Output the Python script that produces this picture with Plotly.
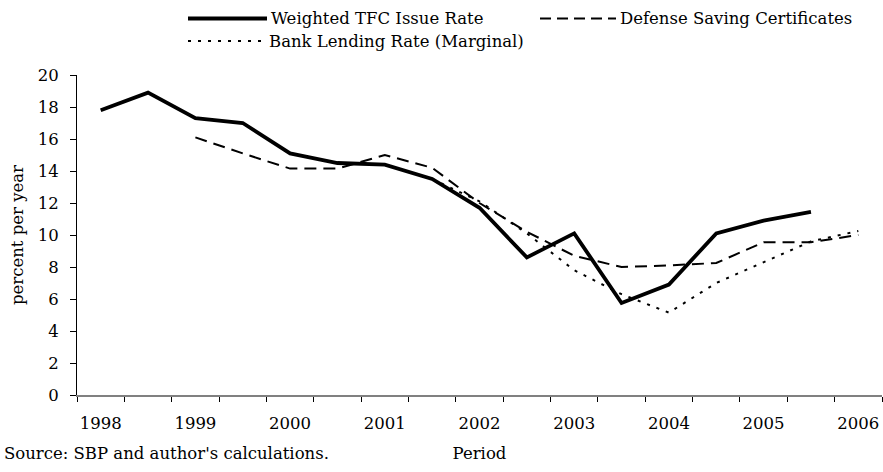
import plotly.graph_objects as go

periods = ["1998", "1998 H2", "1999", "1999 H2", "2000", "2000 H2", "2001", "2001 H2",
           "2002", "2002 H2", "2003", "2003 H2", "2004", "2004 H2", "2005", "2005 H2", "2006"]
year_labels = ["1998", "1999", "2000", "2001", "2002", "2003", "2004", "2005", "2006"]

tfc_rate = [17.8, 18.9, 17.3, 17.0, 15.1, 14.5, 14.4, 13.5, 11.7, 8.6, 10.1, 5.75, 6.9, 10.1, 10.9, 11.45]
defense_rate = [16.1, 15.1, 14.15, 14.15, 15.0, 14.2, 12.0, 10.2, 8.7, 8.0, 8.1, 8.25, 9.55, 9.55, 10.0]
defense_start = "1999"
bank_rate = [13.5, 12.1, 10.1, 7.8, 6.3, 5.15, 7.0, 8.3, 9.6, 10.25]
bank_start = "2001 H2"

series_names = ["Weighted TFC Issue Rate", "Defense Saving Certificates", "Bank Lending Rate (Marginal)"]

FONT = "DejaVu Serif"
FS = 16.5

W, H = 883, 472
ML, MR, MT, MB = 77, 1, 75, 77
PW, PH = W - ML - MR, H - MT - MB


def idx_from(start, n):
    s = periods.index(start)
    return list(range(s, s + n))


fig = go.Figure()
fig.add_trace(go.Scatter(x=list(range(len(tfc_rate))), y=tfc_rate, mode="lines",
                         name=series_names[0], line=dict(color="black", width=3.8),
                         showlegend=False))
fig.add_trace(go.Scatter(x=idx_from(defense_start, len(defense_rate)), y=defense_rate, mode="lines",
                         name=series_names[1], line=dict(color="black", width=2, dash="12px,7px"),
                         showlegend=False))
fig.add_trace(go.Scatter(x=idx_from(bank_start, len(bank_rate)), y=bank_rate, mode="lines",
                         name=series_names[2], line=dict(color="black", width=2, dash="3px,7px"),
                         showlegend=False))


def px(x):
    return (x - ML) / PW


def py(y):
    return (H - MB - y) / PH


# custom legend (long sample lines like the original)
legend_items = [
    (188, 267, 18.5, dict(color="black", width=3.8)),
    (540, 616, 18.5, dict(color="black", width=2, dash="11px,6px")),
    (188, 265, 41, dict(color="black", width=2, dash="3px,7px")),
]
for (x0, x1, yy, ln), name in zip(legend_items, series_names):
    fig.add_shape(type="line", xref="paper", yref="paper", x0=px(x0), x1=px(x1),
                  y0=py(yy), y1=py(yy), line=ln)
    fig.add_annotation(xref="paper", yref="paper", x=px(x1 + 2), y=py(yy), text=name,
                       showarrow=False, xanchor="left", yanchor="middle",
                       font=dict(family=FONT, size=FS, color="black"))

fig.add_annotation(xref="paper", yref="paper", x=px(2), y=py(453),
                   text="Source: SBP and author's calculations.", showarrow=False,
                   xanchor="left", yanchor="middle",
                   font=dict(family=FONT, size=FS, color="black"))

fig.update_layout(
    width=W, height=H,
    margin=dict(l=ML, r=MR, t=MT, b=MB),
    paper_bgcolor="white", plot_bgcolor="white",
    font=dict(family=FONT, size=FS, color="black"),
    showlegend=False,
)
fig.update_xaxes(
    range=[-0.5, len(periods) - 0.5],
    tickvals=[periods.index(y) for y in year_labels], ticktext=year_labels,
    ticks="", showgrid=False, zeroline=False,
    showline=True, linecolor="#808080", linewidth=2,
    ticklabelstandoff=12,
    minor=dict(ticks="outside", tick0=0.5, dtick=1, ticklen=5, tickcolor="black", tickwidth=1, showgrid=False),
    title=dict(text="Period", font=dict(family=FONT, size=FS), standoff=16),
)
fig.update_yaxes(
    range=[0, 20], dtick=2, tick0=0,
    ticks="outside", ticklen=6, tickcolor="black", tickwidth=1,
    showgrid=False, zeroline=False,
    showline=True, linecolor="black", linewidth=1,
    ticklabelstandoff=8,
    title=dict(text="percent per year", font=dict(family=FONT, size=FS), standoff=9),
)

fig.write_html("out.html", config={"displayModeBar": False},
               post_script="document.body.style.margin='0px';document.body.style.overflow='hidden';")
